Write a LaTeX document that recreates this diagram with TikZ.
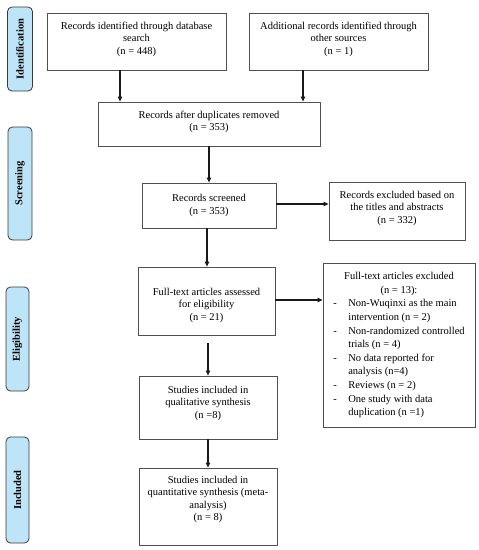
\documentclass[tikz,border=0pt]{standalone}
\usepackage{fontspec}
\setmainfont{Liberation Serif}
\usetikzlibrary{arrows.meta}
\definecolor{boxc}{HTML}{505050}
\definecolor{phasec}{HTML}{3A3A3A}
\definecolor{phasefill}{HTML}{BDE5F7}
\begin{document}
\begin{tikzpicture}[x=1pt,y=-1pt,
  box/.style={draw=boxc,line width=0.8pt,inner sep=0pt,align=center,font=\fontsize{10.5}{12.5}\selectfont},
  lbl/.style={inner sep=0pt,align=center,font=\fontsize{10.5}{12.5}\selectfont},
  phase/.style={draw=phasec,fill=phasefill,rounded corners=4.5pt,line width=0.8pt,rotate=90,inner sep=0pt,font=\fontsize{10.5}{12}\selectfont\bfseries},
  arr/.style={draw=black!90,line width=1.1pt,-{Triangle[length=5pt,width=4.5pt]}}]
\useasboundingbox (0,0) rectangle (479,550);

% phase labels
\node[phase,minimum width=84,minimum height=25] (pid) at (20,49) {Identification};
\node[phase,minimum width=113,minimum height=24] (psc) at (20,183.5) {Screening};
\node[phase,minimum width=104,minimum height=23] (pel) at (17.5,339) {Eligibility};
\node[phase,minimum width=106,minimum height=23] (pin) at (17.5,490) {Included};

% boxes
\node[box,minimum width=179,minimum height=57,
  label={[lbl,yshift=2.5pt]center:{Records identified through database\\search\\(n = 448)}}] (b1) at (136.5,41.5) {};
\node[box,minimum width=179,minimum height=57,
  label={[lbl,yshift=2.5pt]center:{Additional records identified through\\other sources\\(n = 1)}}] (b2) at (338.5,41.5) {};
\node[box,minimum width=222,minimum height=44,
  label={[lbl,yshift=2pt]center:{Records after duplicates removed\\(n = 353)}}] (b3) at (209,124) {};
\node[box,minimum width=134,minimum height=45] (b4) at (209,205.5)
  {Records screened\\(n = 353)};
\node[box,minimum width=136,minimum height=58,
  label={[lbl,yshift=3pt]center:{Records excluded based on\\the titles and abstracts\\(n = 332)}}] (b5) at (397,211) {};
\node[box,minimum width=137,minimum height=68,
  label={[lbl,yshift=-4pt]center:{Full-text articles assessed\\for eligibility\\(n = 21)}}] (b6) at (206.5,301) {};
\node[box,minimum width=152,minimum height=164,font=\fontsize{10.5}{13.6}\selectfont] (b7) at (399,345)
  {\begin{tabular}{@{}p{15pt}@{}l@{}}
   \multicolumn{2}{c}{Full-text articles excluded}\\
   \multicolumn{2}{c}{(n = 13):}\\
   - & Non-Wuqinxi as the main\\
     & intervention (n = 2)\\
   - & Non-randomized controlled\\
     & trials (n = 4)\\
   - & No data reported for\\
     & analysis (n=4)\\
   - & Reviews (n = 2)\\
   - & One study with data\\
     & duplication (n =1)
   \end{tabular}};
\node[box,minimum width=138,minimum height=63,
  label={[lbl,yshift=4.5pt]center:{Studies included in\\qualitative synthesis\\(n =8)}}] (b8) at (208,407.5) {};
\node[box,minimum width=138,minimum height=77,
  label={[lbl,yshift=7pt]center:{Studies included in\\quantitative synthesis (meta-\\analysis)\\(n = 8)}}] (b9) at (208,506.5) {};

% arrow guide coordinates
\coordinate (x1) at (120,0);
\coordinate (x2) at (303,0);
\coordinate (x3) at (209,0);
\coordinate (x5) at (207,0);
\coordinate (x7) at (208,0);
\coordinate (y4) at (0,204);
\coordinate (y6) at (0,300);

\draw[arr] (b1.south -| x1) -- (b3.north -| x1);
\draw[arr] (b2.south -| x2) -- (b3.north -| x2);
\draw[arr] (b3.south -| x3) -- (b4.north -| x3);
\draw[arr] (b4.east |- y4) -- (b5.west |- y4);
\draw[arr] (b4.south -| x5) -- (b6.north -| x5);
\draw[arr] (b6.east |- y6) -- (b7.west |- y6);
\draw[arr,shorten <=8pt] (b6.south -| x7) -- (b8.north -| x7);
\draw[arr] (b8.south -| x7) -- (b9.north -| x7);
\end{tikzpicture}
\end{document}
